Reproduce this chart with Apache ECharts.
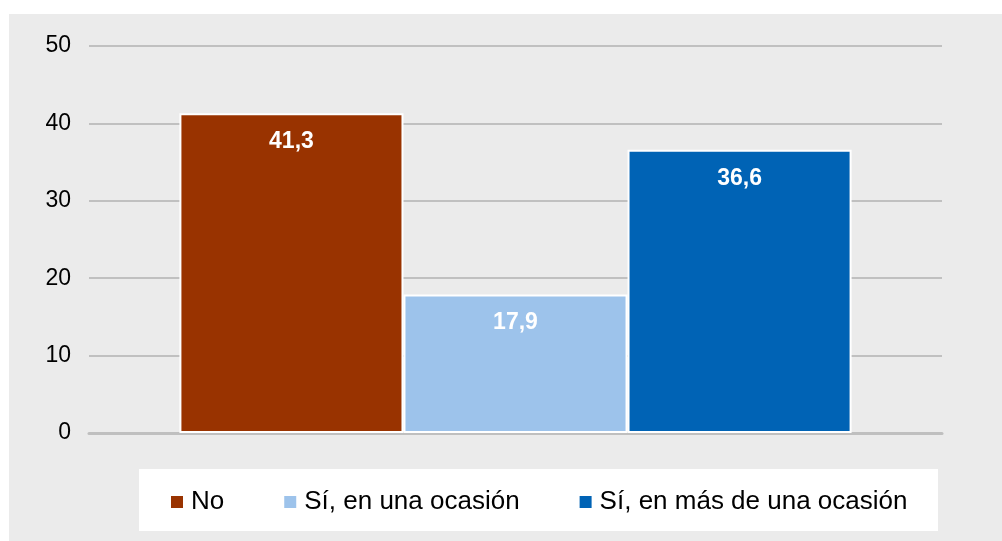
<!DOCTYPE html>
<html>
<head>
<meta charset="utf-8">
<script src="https://cdn.jsdelivr.net/npm/echarts@6/dist/echarts.min.js"></script>
<style>
  html, body { margin: 0; padding: 0; background: #fff; }
  #chart { width: 1002px; height: 541px; }
</style>
</head>
<body>
<div id="chart"></div>
<script>
const categories = [""];
const seriesNames = ["No", "Sí, en una ocasión", "Sí, en más de una ocasión"];
const seriesValues = [[41.3], [17.9], [36.6]];
const seriesColors = ["#993300", "#9DC3EB", "#0063B5"];

const chart = echarts.init(document.getElementById("chart"));

const series = seriesNames.map((name, i) => ({
  name,
  type: "bar",
  data: seriesValues[i],
  barGap: "0%",
  barCategoryGap: "21.2%",
  itemStyle: { color: seriesColors[i], borderColor: "#fff", borderWidth: 2 },
  label: {
    show: true,
    position: "insideTop",
    distance: 17,
    color: "#fff",
    fontWeight: "bold",
    fontSize: 23,
    fontFamily: "Liberation Sans, Arial",
    formatter: (p) => p.value.toFixed(1).replace(".", ",")
  }
}));

chart.setOption({
  animation: false,
  graphic: [
    { type: "rect", shape: { x: 9, y: 14, width: 993, height: 527 }, style: { fill: "#EBEBEB" }, z: -10 },
    { type: "rect", shape: { x: 139, y: 469, width: 799, height: 62 }, style: { fill: "#fff" }, z: -9 }
  ],
  grid: { left: 89, right: 60, top: 46, bottom: 108, containLabel: false },
  xAxis: {
    type: "category",
    data: categories,
    axisLine: { lineStyle: { color: "#BFBFBF", width: 3 } },
    axisTick: { show: false },
    axisLabel: { show: false }
  },
  yAxis: {
    type: "value",
    min: 0,
    max: 50,
    interval: 10,
    axisLine: { show: false },
    axisTick: { show: false },
    axisLabel: { color: "#000", fontSize: 23, fontFamily: "Liberation Sans, Arial", margin: 18 },
    splitLine: { lineStyle: { color: "#C0C0C0", width: 2 } }
  },
  legend: {
    data: seriesNames,
    left: 169,
    top: 489,
    padding: 0,
    itemWidth: 14,
    itemHeight: 14,
    itemGap: 58,
    icon: "rect",
    textStyle: { color: "#000", fontSize: 26, fontFamily: "Liberation Sans, Arial", padding: [0, 0, 0, 2] }
  },
  series
});
</script>
</body>
</html>
